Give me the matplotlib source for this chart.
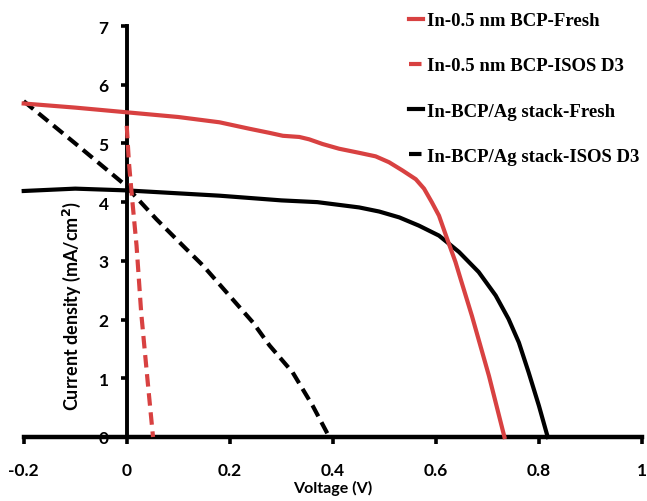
import matplotlib
matplotlib.use("Agg")
import matplotlib.pyplot as plt

# Data
v_red_fresh = [-0.2, -0.1, 0.0, 0.1, 0.18, 0.238, 0.277, 0.303, 0.335, 0.354, 0.38,
               0.412, 0.451, 0.483, 0.509, 0.535, 0.561, 0.577, 0.592, 0.606, 0.622,
               0.638, 0.648, 0.67, 0.703, 0.733]
j_red_fresh = [5.68, 5.61, 5.53, 5.45, 5.36, 5.25, 5.18, 5.13, 5.11, 5.07, 4.99,
               4.91, 4.84, 4.78, 4.68, 4.54, 4.39, 4.23, 4.00, 3.77, 3.37,
               2.98, 2.69, 2.06, 1.04, 0.0]

v_red_isos = [0.0, 0.004, 0.010, 0.019, 0.028, 0.040, 0.051]
j_red_isos = [5.30, 4.70, 4.10, 3.26, 2.12, 1.00, 0.0]

v_blk_fresh = [-0.2, -0.1, 0.0, 0.1, 0.18, 0.3, 0.37, 0.451, 0.49, 0.529, 0.567, 0.606,
               0.645, 0.683, 0.716, 0.741, 0.761, 0.780, 0.800, 0.817]
j_blk_fresh = [4.19, 4.23, 4.20, 4.15, 4.11, 4.03, 4.00, 3.91, 3.84, 3.74, 3.60, 3.43,
               3.15, 2.81, 2.41, 2.01, 1.61, 1.10, 0.53, 0.0]

v_blk_isos = [-0.2, -0.1, 0.0, 0.0155, 0.0575, 0.1156, 0.148, 0.199, 0.245, 0.277,
              0.322, 0.361, 0.393]
j_blk_isos = [5.72, 5.00, 4.27, 4.11, 3.71, 3.20, 2.92, 2.41, 1.95, 1.56, 1.10, 0.53, 0.0]

labels = ["In-0.5 nm BCP-Fresh", "In-0.5 nm BCP-ISOS D3",
          "In-BCP/Ag stack-Fresh", "In-BCP/Ag stack-ISOS D3"]
x_ticks = [-0.2, 0, 0.2, 0.4, 0.6, 0.8, 1]
x_tick_labels = ["-0.2", "0", "0.2", "0.4", "0.6", "0.8", "1"]
y_ticks = [0, 1, 2, 3, 4, 5, 6, 7]

RED = "#D84141"
BLK = "#000000"

fig = plt.figure(figsize=(6.47, 5.02), dpi=100)
ax = fig.add_axes([23.7 / 647, 1 - 438 / 502, (642.0 - 23.7) / 647, (438 - 27) / 502])

lw = 3.0
dash = (0, (3.0, 1.6))
l1, = ax.plot(v_red_fresh, j_red_fresh, color=RED, lw=lw, zorder=4, clip_on=False,
              solid_joinstyle="round")
l2, = ax.plot(v_red_isos, j_red_isos, color=RED, lw=lw, ls=dash, zorder=5, clip_on=False)
l3, = ax.plot(v_blk_fresh, j_blk_fresh, color=BLK, lw=lw, zorder=3, clip_on=False,
              solid_joinstyle="round")
l4, = ax.plot(v_blk_isos, j_blk_isos, color=BLK, lw=lw, ls=dash, zorder=3, clip_on=False)

ax.set_xlim(-0.2, 1)
ax.set_ylim(0, 7)

ax.spines["left"].set_position(("data", 0))
ax.spines["left"].set_linewidth(2.8)
ax.spines["bottom"].set_linewidth(3.2)
ax.spines["top"].set_visible(False)
ax.spines["right"].set_visible(False)

ax.set_xticks(x_ticks)
ax.set_xticklabels(x_tick_labels)
ax.set_yticks(y_ticks)

for lab in ax.get_xticklabels() + ax.get_yticklabels():
    lab.set_fontfamily("Lato")
    lab.set_fontweight("bold")
    lab.set_fontsize(12.5)

ax.tick_params(axis="x", direction="out", length=5, width=2.6, pad=13)
ax.tick_params(axis="y", direction="out", length=4, width=2.6, pad=9)

ax.set_xlabel("Voltage (V)", fontfamily="Lato", fontweight="bold", fontsize=11.5)
ax.xaxis.set_label_coords(0.5, -0.105)
ax.set_ylabel("Current density (mA/cm$^{\\mathbf{2}}$)", fontfamily="Lato",
              fontweight="bold", fontsize=13)
ax.yaxis.set_label_coords(0.096, 0.321)

leg = ax.legend([l1, l2, l3, l4], labels, loc="upper left",
                bbox_to_anchor=(409 / 647, 1 - 13 / 502), bbox_transform=fig.transFigure,
                frameon=False, handlelength=0.74, handletextpad=0.2,
                labelspacing=1.5, borderpad=0, borderaxespad=0,
                prop=dict(family="Liberation Serif", weight="bold", size=13.5))

fig.savefig("out.png", dpi=100)
